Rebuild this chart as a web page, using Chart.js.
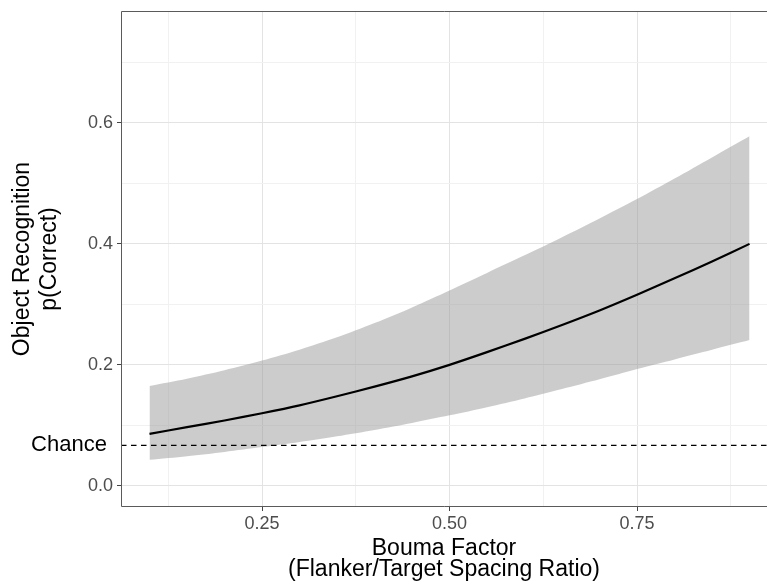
<!DOCTYPE html>
<html>
<head>
<meta charset="utf-8">
<script src="https://cdn.jsdelivr.net/npm/chart.js@4.4.1/dist/chart.umd.min.js"></script>
<style>
  html, body { margin: 0; padding: 0; background: #ffffff; overflow: hidden; }
  #wrap { width: 767px; height: 586px; position: relative; }
</style>
</head>
<body>
<div id="wrap"><canvas id="c"></canvas></div>
<script>
// ---- data ----
const boumaFactor = [0.10, 0.15, 0.20, 0.25, 0.30, 0.35, 0.40, 0.45, 0.50, 0.55, 0.60, 0.65, 0.70, 0.75, 0.80, 0.85, 0.90];
const pCorrect    = [0.086, 0.097, 0.108, 0.120, 0.133, 0.148, 0.164, 0.181, 0.200, 0.221, 0.243, 0.266, 0.290, 0.316, 0.343, 0.371, 0.400];
const ciUpper     = [0.165, 0.177, 0.191, 0.207, 0.225, 0.2455, 0.269, 0.295, 0.323, 0.352, 0.381, 0.411, 0.442, 0.474, 0.508, 0.543, 0.578];
const ciLower     = [0.043, 0.049, 0.056, 0.064, 0.0725, 0.082, 0.0925, 0.104, 0.1165, 0.130, 0.1445, 0.160, 0.176, 0.193, 0.209, 0.225, 0.241];
const chanceLevel = 0.067;

const xMajorTicks = [0.25, 0.50, 0.75];
const xMinorTicks = [0.125, 0.375, 0.625, 0.875];
const yMajorTicks = [0.0, 0.2, 0.4, 0.6];
const yMinorTicks = [0.1, 0.3, 0.5, 0.7];
const chanceLabel = 'Chance ';

const xTitle = ['Bouma Factor', '(Flanker/Target Spacing Ratio)'];
const yTitle = ['Object Recognition', 'p(Correct)'];

const X_MIN = 0.062, X_MAX = 0.9233;
const Y_MIN = -0.035, Y_MAX = 0.785;

// ---- build ----
const pts = (ys) => boumaFactor.map((x, i) => ({ x: x, y: ys[i] }));
const FONT = '"Liberation Sans", Arial, Helvetica, sans-serif';
const isIn = (arr, v) => arr.some(a => Math.abs(a - v) < 1e-9);
const isChance = (v) => Math.abs(v - chanceLevel) < 1e-9;

const panelBorder = {
  id: 'panelBorder',
  afterDatasetsDraw(chart) {
    const { ctx, chartArea: a } = chart;
    ctx.save();
    ctx.strokeStyle = '#5a5a5a';
    ctx.lineWidth = 1;
    ctx.beginPath();
    ctx.moveTo(a.right + 2, a.top + 0.5);
    ctx.lineTo(a.left + 0.5, a.top + 0.5);
    ctx.lineTo(a.left + 0.5, a.bottom - 0.5);
    ctx.lineTo(a.right + 2, a.bottom - 0.5);
    ctx.stroke();
    ctx.restore();
  }
};

new Chart(document.getElementById('c'), {
  type: 'line',
  data: {
    datasets: [
      {
        label: 'lower',
        data: pts(ciLower),
        borderWidth: 0,
        borderColor: 'rgba(0,0,0,0)',
        pointRadius: 0,
        fill: false,
        tension: 0.3,
        order: 3
      },
      {
        label: 'upper',
        data: pts(ciUpper),
        borderWidth: 0,
        borderColor: 'rgba(0,0,0,0)',
        backgroundColor: 'rgba(153,153,153,0.5)',
        pointRadius: 0,
        fill: '-1',
        tension: 0.3,
        order: 2
      },
      {
        label: 'chance',
        data: [{ x: X_MIN, y: chanceLevel }, { x: X_MAX, y: chanceLevel }],
        borderColor: '#000000',
        borderWidth: 1.3,
        borderDash: [5.5, 4.5],
        pointRadius: 0,
        fill: false,
        order: 1
      },
      {
        label: 'fit',
        data: pts(pCorrect),
        borderColor: '#000000',
        borderWidth: 2.2,
        pointRadius: 0,
        fill: false,
        tension: 0.3,
        order: 0
      }
    ]
  },
  options: {
    responsive: true,
    maintainAspectRatio: false,
    animation: false,
    layout: { padding: { top: 11, left: 0, right: 0, bottom: 0 } },
    plugins: { legend: { display: false }, tooltip: { enabled: false } },
    scales: {
      x: {
        type: 'linear',
        min: X_MIN,
        max: X_MAX,
        afterBuildTicks: (s) => { s.ticks = [...xMinorTicks, ...xMajorTicks].sort((a, b) => a - b).map(v => ({ value: v })); },
        afterFit: (s) => { s.height = 79; s.paddingLeft = 0; s.paddingRight = 0; },
        border: { display: false },
        grid: {
          color: (c) => (c.tick && isIn(xMajorTicks, c.tick.value)) ? '#e3e3e3' : '#f1f1f1',
          lineWidth: 1,
          tickLength: 4,
          tickWidth: 1,
          tickColor: (c) => (c.tick && isIn(xMajorTicks, c.tick.value)) ? '#444444' : 'rgba(0,0,0,0)'
        },
        ticks: {
          autoSkip: false,
          maxRotation: 0,
          padding: 2,
          color: '#4d4d4d',
          font: { family: FONT, size: 18 },
          callback: (v) => isIn(xMajorTicks, v) ? v.toFixed(2) : ''
        },
        title: {
          display: true,
          text: xTitle,
          color: '#000000',
          font: { family: FONT, size: 23, lineHeight: 0.9 },
          padding: { top: 0, bottom: 6 }
        }
      },
      y: {
        type: 'linear',
        min: Y_MIN,
        max: Y_MAX,
        afterBuildTicks: (s) => { s.ticks = [...yMajorTicks, ...yMinorTicks, chanceLevel].sort((a, b) => a - b).map(v => ({ value: v })); },
        afterFit: (s) => { s.width = 121; s.paddingTop = 0; s.paddingBottom = 0; },
        border: { display: false },
        grid: {
          color: (c) => {
            if (!c.tick) return '#f1f1f1';
            if (isChance(c.tick.value)) return 'rgba(0,0,0,0)';
            return isIn(yMajorTicks, c.tick.value) ? '#e3e3e3' : '#f1f1f1';
          },
          lineWidth: 1,
          tickLength: 4,
          tickWidth: 1,
          tickColor: (c) => (c.tick && isIn(yMajorTicks, c.tick.value)) ? '#444444' : 'rgba(0,0,0,0)'
        },
        ticks: {
          autoSkip: false,
          padding: 4,
          color: (c) => (c.tick && isChance(c.tick.value)) ? '#000000' : '#4d4d4d',
          font: (c) => (c.tick && isChance(c.tick.value)) ? { family: FONT, size: 22 } : { family: FONT, size: 18 },
          callback: (v) => {
            if (isChance(v)) return chanceLabel;
            return isIn(yMajorTicks, v) ? v.toFixed(1) : '';
          }
        },
        title: {
          display: true,
          text: yTitle,
          color: '#000000',
          font: { family: FONT, size: 23, lineHeight: 1.17 },
          padding: { top: 9, bottom: 0 }
        }
      }
    }
  },
  plugins: [panelBorder]
});
</script>
</body>
</html>
